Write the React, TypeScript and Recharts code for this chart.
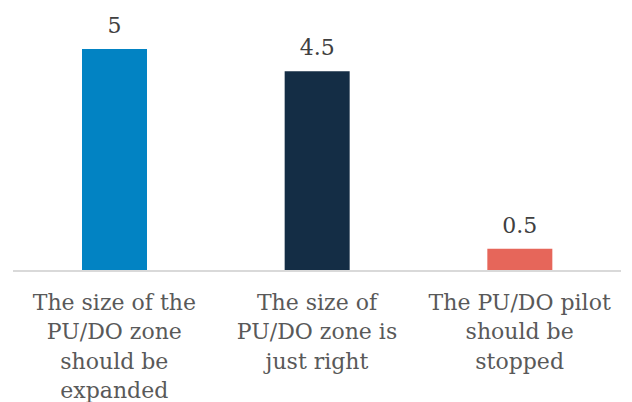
import { BarChart, Bar, XAxis, YAxis, Cell, LabelList } from "recharts";

const categories = [
    "The size of the\nPU/DO zone\nshould be\nexpanded",
    "The size of\nPU/DO zone is\njust right",
    "The PU/DO pilot\nshould be\nstopped",
];
const values = [5, 4.5, 0.5];
const colors = ["#0283C3", "#142D45", "#E6665A"];

const data = categories.map((name, i) => ({ name, value: values[i] }));

const FONT = "'DejaVu Serif', serif";

function CategoryTick(props: any) {
    const { x, y, payload } = props;
    const lines = String(payload.value).split("\n");
    return (
        <text
            x={x}
            y={y}
            textAnchor="middle"
            fill="#595959"
            fontFamily={FONT}
            fontSize={22}
        >
            {lines.map((line, i) => (
                <tspan key={i} x={x} dy={i === 0 ? 31 : 29.3}>
                    {line}
                </tspan>
            ))}
        </text>
    );
}

export default function App() {
    return (
        <div style={{ position: "absolute", left: 0, top: 0, background: "#fff" }}>
            <BarChart
                width={632}
                height={402}
                data={data}
                margin={{ top: 49, right: 11, left: 13, bottom: 0 }}
            >
                <YAxis hide domain={[0, 5]} />
                <XAxis
                    dataKey="name"
                    height={131}
                    axisLine={{ stroke: "#D9D9D9", strokeWidth: 2 }}
                    tickLine={false}
                    interval={0}
                    tick={<CategoryTick />}
                />
                <Bar dataKey="value" barSize={65} isAnimationActive={false}>
                    {data.map((entry, index) => (
                        <Cell key={`cell-${index}`} fill={colors[index]} />
                    ))}
                    <LabelList
                        dataKey="value"
                        position="top"
                        offset={16}
                        fill="#404040"
                        fontFamily={FONT}
                        fontSize={22}
                    />
                </Bar>
            </BarChart>
        </div>
    );
}
